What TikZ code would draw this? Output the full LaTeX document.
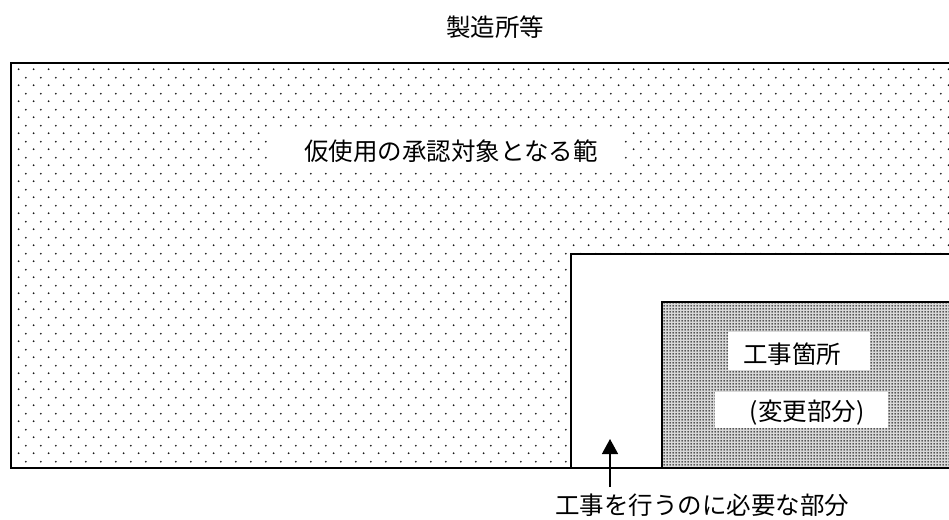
\documentclass[tikz,border=0pt]{standalone}
\usepackage{fontspec}
\newfontfamily\jp{Noto Sans CJK JP}
\usetikzlibrary{patterns,arrows.meta}
\pgfdeclarepatternformonly{sparsedots}{\pgfpointorigin}{\pgfpoint{15.2pt}{15.5pt}}{\pgfpoint{15.2pt}{15.5pt}}{%
  \pgfpathcircle{\pgfpoint{3.8pt}{3.9pt}}{1pt}%
  \pgfpathcircle{\pgfpoint{11.4pt}{11.65pt}}{1pt}%
  \pgfusepath{fill}}
\pgfdeclarepatternformonly{densedots}{\pgfpointorigin}{\pgfpoint{3pt}{3pt}}{\pgfpoint{3pt}{3pt}}{%
  \pgfpathcircle{\pgfpoint{1.5pt}{1.5pt}}{1.1pt}%
  \pgfusepath{fill}}
\begin{document}
\begin{tikzpicture}[x=1pt,y=-1pt,
  lbl/.style={font=\jp\fontsize{24.5}{26}\selectfont, inner sep=0pt, anchor=center},
  whitebox/.style={fill=white, draw=none, inner sep=0pt},
  border/.style={line width=2pt, black}]
\useasboundingbox (0,0) rectangle (949,519);
% outer area
\fill[pattern=sparsedots, pattern color=black!90] (10.5,63) rectangle (949,468);
\draw[border] (960,63) -- (10.5,63) -- (10.5,468) -- (960,468);
% white area needed for construction
\fill[white] (571,253.5) rectangle (949,468);
\draw[border] (960,253.5) -- (571,253.5) -- (571,468);
% construction area
\fill[black!15] (662,301.5) rectangle (949,468);
\fill[pattern=densedots, pattern color=black!85] (662,301.5) rectangle (949,468);
\draw[border] (960,301.5) -- (662,301.5) -- (662,468);
\draw[border] (571,468) -- (960,468);
% label boxes
\node[whitebox, minimum width=348pt, minimum height=44pt] (kbox) at (446,150) {};
\node[lbl] (kari) at (451,151) {仮使用の承認対象となる範};
\node[whitebox, minimum width=142pt, minimum height=38pt] (kbox2) at (799,351) {};
\node[lbl] (koji) at (792,354) {工事箇所};
\node[whitebox, minimum width=173pt, minimum height=36pt] (hbox) at (801.5,410) {};
\node[lbl] (henko) at (807,413) {(変更部分)};
% title
\node[lbl] (title) at (495,27.5) {製造所等};
% bottom label and arrow
\node[lbl] (need) at (702,505) {工事を行うのに必要な部分};
\coordinate (tail) at (610,487);
\coordinate (tip) at (610,439);
\draw[line width=1.5pt, -{Triangle[width=16pt,length=15pt]}] (tail) -- (tip);
\end{tikzpicture}
\end{document}
